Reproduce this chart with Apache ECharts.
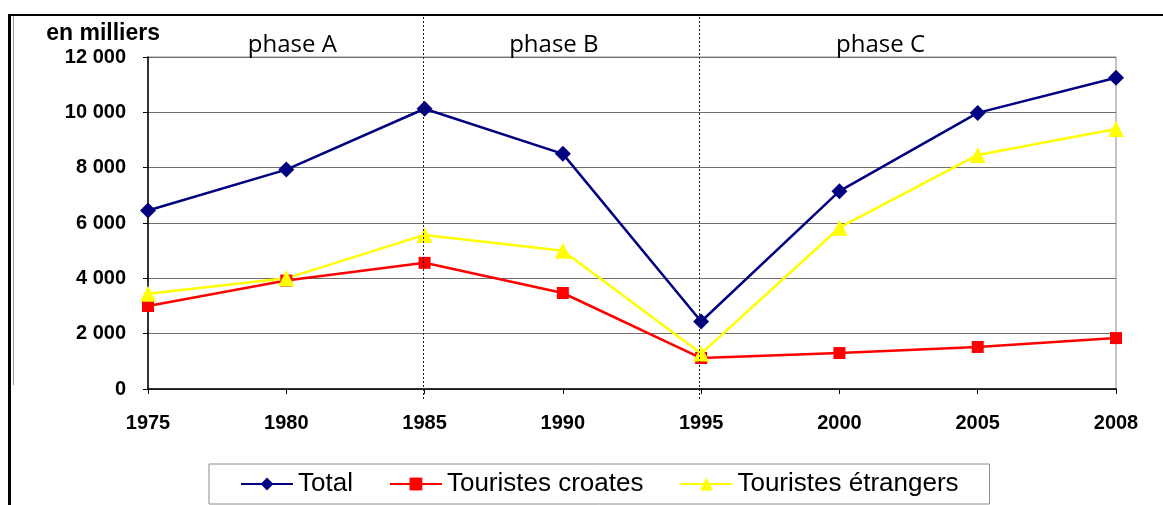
<!DOCTYPE html>
<html><head><meta charset="utf-8">
<script src="https://cdn.jsdelivr.net/npm/echarts@6/dist/echarts.min.js"></script>
<style>html,body{margin:0;padding:0;background:#fff}#c{width:1163px;height:505px}</style>
</head><body><div id="c"></div>
<script>
const years = ['1975','1980','1985','1990','1995','2000','2005','2008'];
const total = [6450, 7930, 10130, 8500, 2440, 7150, 9980, 11250];
const croates = [3000, 3920, 4560, 3470, 1120, 1300, 1520, 1840];
const etrangers = [3440, 4000, 5570, 5000, 1280, 5830, 8460, 9400];
const yTicks = [0, 2000, 4000, 6000, 8000, 10000, 12000];
const phases = [
  {name: 'phase A', from: '1975', to: '1985'},
  {name: 'phase B', from: '1985', to: '1995'},
  {name: 'phase C', from: '1995', to: '2008'}
];
const dividers = ['1985', '1995'];

(function () {
const chart = echarts.init(document.getElementById('c'), null, {renderer: 'canvas'});
const fmt = v => String(v).replace(/\B(?=(\d{3})+(?!\d))/g, ' ');
const boldFont = {fontFamily: 'Liberation Sans, Arial, sans-serif', fontWeight: 'bold', color: '#000'};
const phaseDx = [6, -9, -28];

chart.setOption({
  animation: false,
  grid: {left: 148, right: 47, top: 57, bottom: 116, show: true, borderColor: '#8c8c8c', borderWidth: 1},
  xAxis: {
    type: 'category', data: years, boundaryGap: false,
    axisLine: {lineStyle: {color: '#000', width: 1.5}},
    axisTick: {show: true, length: 5, lineStyle: {color: '#000'}},
    axisLabel: Object.assign({margin: 24, fontSize: 20}, boldFont),
    splitLine: {show: false}
  },
  yAxis: {
    type: 'value', min: yTicks[0], max: yTicks[yTicks.length - 1], interval: 2000,
    name: 'en milliers', nameLocation: 'end', nameGap: 12,
    nameTextStyle: Object.assign({fontSize: 23}, boldFont, {align: 'right', padding: [0, -12, 0, 0]}),
    axisLine: {show: true, lineStyle: {color: '#000', width: 1.5}},
    axisTick: {show: true, length: 5, lineStyle: {color: '#000'}},
    axisLabel: Object.assign({margin: 22, fontSize: 20, formatter: v => fmt(v)}, boldFont),
    splitLine: {lineStyle: {color: '#6f6f6f', width: 1}}
  },
  legend: {
    bottom: 1, left: 209, itemWidth: 52, itemHeight: 16, itemGap: 36,
    padding: [7, 31, 7, 31],
    borderColor: '#8c8c8c', borderWidth: 1,
    textStyle: {fontFamily: 'Liberation Sans, Arial, sans-serif', fontSize: 26, color: '#000'},
    data: ['Total', 'Touristes croates', 'Touristes étrangers']
  },
  series: [
    {name: 'Total', type: 'line', data: total, symbol: 'diamond', symbolSize: 16,
     itemStyle: {color: '#000080'}, lineStyle: {color: '#000080', width: 2.5}, z: 4},
    {name: 'Touristes croates', type: 'line', data: croates, symbol: 'rect', symbolSize: 12,
     itemStyle: {color: '#ff0000'}, lineStyle: {color: '#ff0000', width: 2.5}, z: 3},
    {name: 'Touristes étrangers', type: 'line', data: etrangers, symbol: 'triangle', symbolSize: 16,
     itemStyle: {color: '#ffff00'}, lineStyle: {color: '#ffff00', width: 2.5}, z: 3}
  ]
});

const topY = chart.convertToPixel({yAxisIndex: 0}, yTicks[yTicks.length - 1]);
const g = [];
dividers.forEach(d => {
  const x = Math.round(chart.convertToPixel({xAxisIndex: 0}, d)) - 1.5;
  g.push({type: 'line', shape: {x1: x, y1: 17, x2: x, y2: 400}, z: 10,
    style: {stroke: '#222', lineWidth: 1, lineDash: [2, 2]}});
});
phases.forEach((p, i) => {
  const x1 = chart.convertToPixel({xAxisIndex: 0}, p.from);
  const x2 = chart.convertToPixel({xAxisIndex: 0}, p.to);
  g.push({type: 'text', x: (x1 + x2) / 2 + phaseDx[i], y: topY, z: 10,
    style: {text: p.name, fill: '#000', font: '24px "Open Sans", sans-serif', textAlign: 'center', textVerticalAlign: 'bottom'}});
});
g.push({type: 'line', shape: {x1: 8, y1: 15, x2: 1163, y2: 15}, style: {stroke: '#000', lineWidth: 2}});
g.push({type: 'line', shape: {x1: 9.5, y1: 14, x2: 9.5, y2: 505}, style: {stroke: '#000', lineWidth: 3}});
g.push({type: 'line', shape: {x1: 13.5, y1: 16, x2: 13.5, y2: 385}, style: {stroke: '#999', lineWidth: 1}});
chart.setOption({graphic: g});
})();
</script></body></html>
